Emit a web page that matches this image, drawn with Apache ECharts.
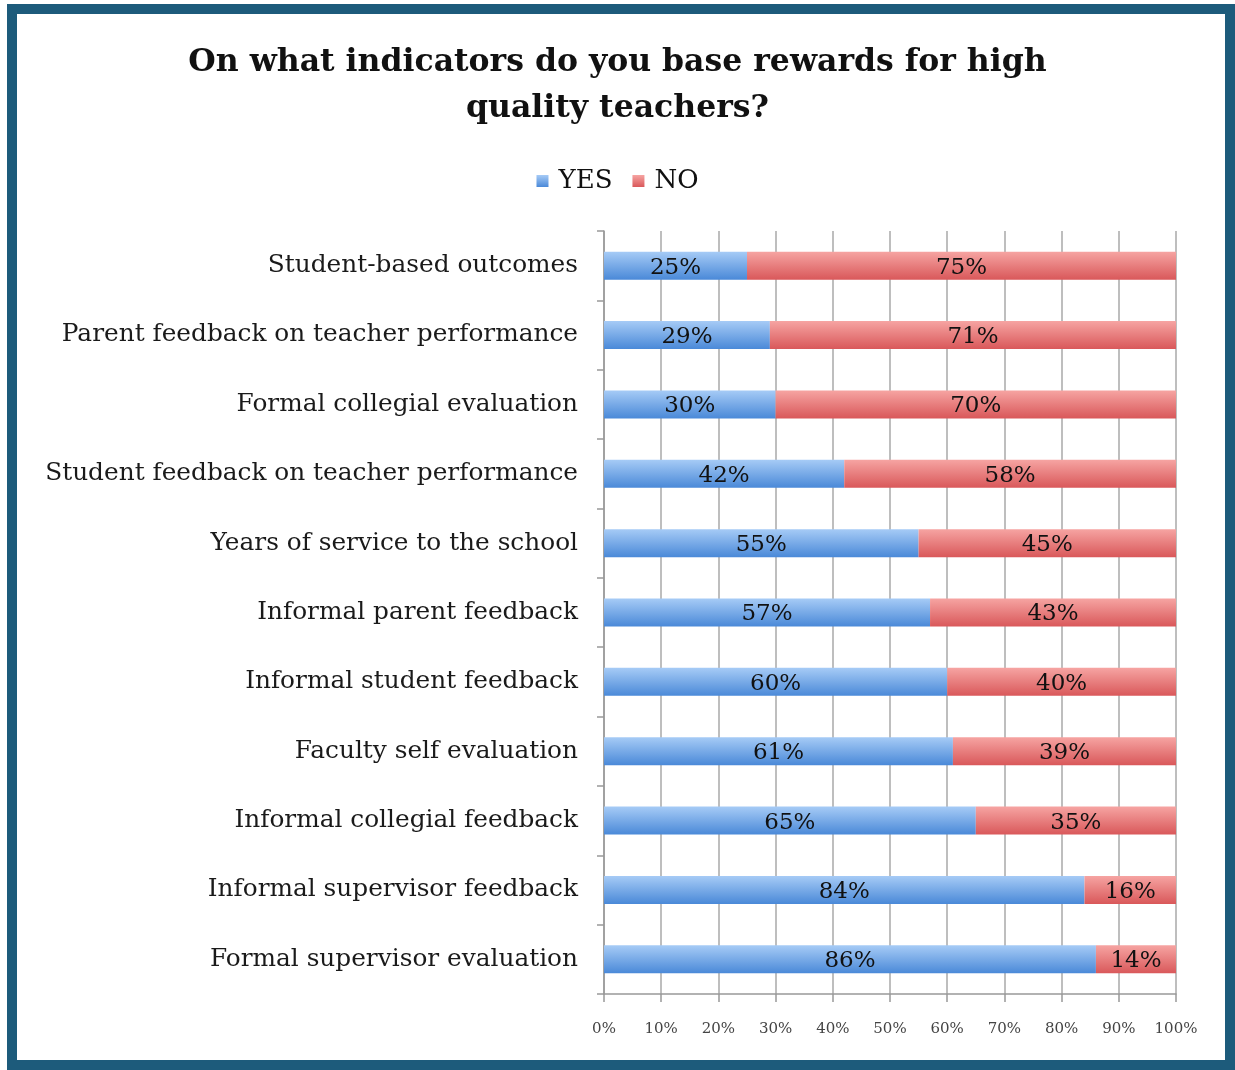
<!DOCTYPE html>
<html>
<head>
<meta charset="utf-8">
<script src="https://cdn.jsdelivr.net/npm/echarts@6/dist/echarts.min.js"></script>
<style>
html,body{margin:0;padding:0;background:#fff;}
#chart{position:absolute;left:0;top:0;width:1235px;height:1070px;}
#frame{position:absolute;left:7px;top:4px;width:1228px;height:1066px;box-sizing:border-box;border:10px solid #1d5b7b;pointer-events:none;}
</style>
</head>
<body>
<div id="chart"></div>
<div id="frame"></div>
<script>
const categories = [
  "Student-based outcomes",
  "Parent feedback on teacher performance",
  "Formal collegial evaluation",
  "Student feedback on teacher performance",
  "Years of service to the school",
  "Informal parent feedback",
  "Informal student feedback",
  "Faculty self evaluation",
  "Informal collegial feedback",
  "Informal supervisor feedback",
  "Formal supervisor evaluation"
];
const yesValues = [25, 29, 30, 42, 55, 57, 60, 61, 65, 84, 86];
const noValues  = [75, 71, 70, 58, 45, 43, 40, 39, 35, 16, 14];
const xTicks = [0, 10, 20, 30, 40, 50, 60, 70, 80, 90, 100];

const serif = "'DejaVu Serif', serif";
const chart = echarts.init(document.getElementById('chart'));
function grad(top, bottom) {
  return new echarts.graphic.LinearGradient(0, 0, 0, 1, [
    {offset: 0, color: top}, {offset: 1, color: bottom}
  ]);
}
const labelStyle = {
  show: true, position: 'inside', formatter: '{c}%',
  fontFamily: serif, fontSize: 23, color: '#111', offset: [0, 2]
};
chart.setOption({
  animation: false,
  title: {
    text: 'On what indicators do you base rewards for high\nquality teachers?',
    left: 'center', top: 35,
    textStyle: {fontFamily: serif, fontWeight: 'bold', fontSize: 31.5, lineHeight: 46, color: '#111'}
  },
  legend: {
    top: 163, left: 'center', icon: 'rect', itemWidth: 12, itemHeight: 12, itemGap: 20,
    textStyle: {fontFamily: serif, fontSize: 26, color: '#111', padding: [0, 0, 0, 5]},
    data: ['YES', 'NO']
  },
  grid: {left: 604, right: 59, top: 231, bottom: 76, containLabel: false},
  xAxis: {
    type: 'value', min: 0, max: 100, interval: 10,
    axisLine: {show: true, lineStyle: {color: '#999', width: 1.5}},
    axisTick: {show: true, length: 8, lineStyle: {color: '#999', width: 1.5}},
    splitLine: {show: true, lineStyle: {color: '#a8a8a8', width: 1.5}},
    axisLabel: {
      formatter: v => xTicks.includes(v) ? v + '%' : '',
      fontFamily: serif, fontSize: 15, color: '#444', margin: 28
    }
  },
  yAxis: {
    type: 'category', inverse: true, data: categories,
    axisLine: {show: true, lineStyle: {color: '#999', width: 1.5}},
    axisTick: {show: true, length: 7, lineStyle: {color: '#999', width: 1.5}},
    axisLabel: {fontFamily: serif, fontSize: 24.8, color: '#1a1a1a', margin: 26}
  },
  series: [
    {
      name: 'YES', type: 'bar', stack: 'total', barWidth: 28, data: yesValues,
      itemStyle: {color: grad('#a6cbf6', '#4a89d8')},
      label: labelStyle
    },
    {
      name: 'NO', type: 'bar', stack: 'total', barWidth: 28, data: noValues,
      itemStyle: {color: grad('#f6a4a2', '#d9585a')},
      label: labelStyle
    }
  ]
});
</script>
</body>
</html>
